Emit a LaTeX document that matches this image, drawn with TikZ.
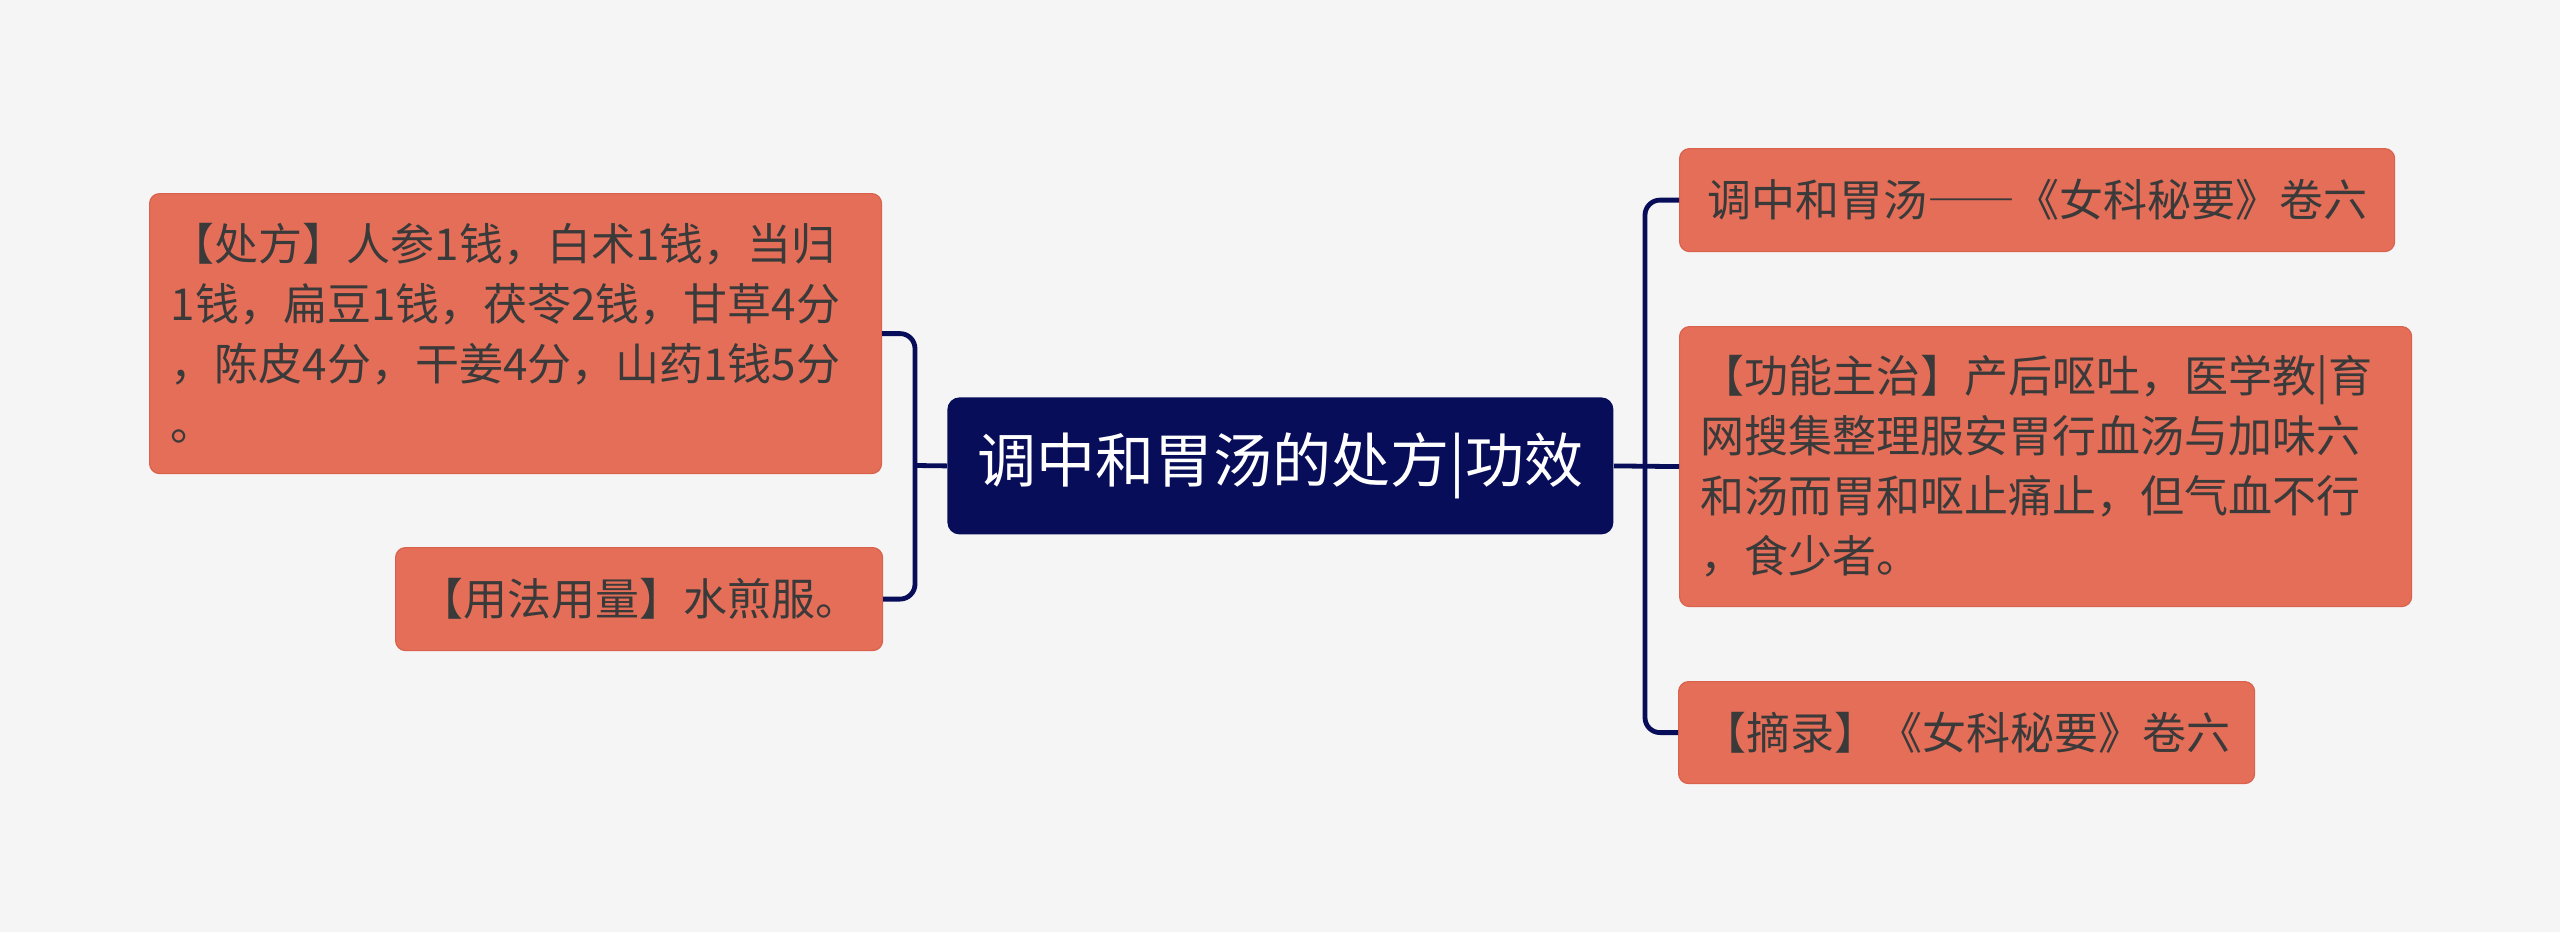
\documentclass[tikz,border=0pt]{standalone}
\usepackage{fontspec}
\setmainfont{Noto Sans CJK SC}
\definecolor{bg}{HTML}{F5F5F5}
\definecolor{leaf}{HTML}{E56E58}
\definecolor{leafline}{HTML}{D8624C}
\definecolor{navy}{HTML}{070D59}
\definecolor{ink}{HTML}{3A3A3A}
\tikzset{
  leafbox/.style={draw=leafline, line width=0.6pt, fill=leaf, rounded corners=5pt, text=ink,
    anchor=north west, inner xsep=10.5pt, inner ysep=0pt,
    font=\fontsize{22pt}{30pt}\selectfont},
  rootbox/.style={fill=navy, rounded corners=6pt, text=white, anchor=north west,
    inner sep=0pt, font=\fontsize{29.5pt}{36pt}\selectfont},
  conn/.style={draw=navy, line width=2.4pt, rounded corners=7.5pt}
}
\begin{document}
\begin{tikzpicture}[x=0.5pt,y=-0.5pt]
\fill[bg] (0,0) rectangle (2560,932);
\useasboundingbox (0,0) rectangle (2560,932);
% root
\node[rootbox, minimum width=333pt, minimum height=68.5pt] (root) at (947,397) {调中和胃汤的处方|功效};
% left
\node[leafbox, text width=345pt, align=left, minimum height=140pt] (ltop) at (149,193)
  {【处方】人参1钱，白术1钱，当归\\1钱，扁豆1钱，茯苓2钱，甘草4分\\，陈皮4分，干姜4分，山药1钱5分\\。};
\node[leafbox, minimum width=243.5pt, minimum height=51.5pt] (lbot) at (395,547) {【用法用量】水煎服。};
% right
\node[leafbox, minimum width=357.5pt, minimum height=51.5pt] (r1) at (1679,148) {调中和胃汤――《女科秘要》卷六};
\node[leafbox, text width=345pt, align=left, minimum height=140pt] (r2) at (1679,326)
  {【功能主治】产后呕吐，医学教|育\\网搜集整理服安胃行血汤与加味六\\和汤而胃和呕止痛止，但气血不行\\，食少者。};
\node[leafbox, minimum width=288pt, minimum height=51pt] (r3) at (1678,681) {【摘录】《女科秘要》卷六};
% connectors
\coordinate (lbar) at (915,465.5);
\coordinate (rbar) at (1645,465.5);
\draw[conn] (ltop.east) -| (lbar) |- (lbot.east);
\draw[conn] (root.west) -- (lbar);
\draw[conn] (r1.west) -| (rbar) |- (r3.west);
\draw[conn] (root.east) -- (r2.west);
\end{tikzpicture}
\end{document}
